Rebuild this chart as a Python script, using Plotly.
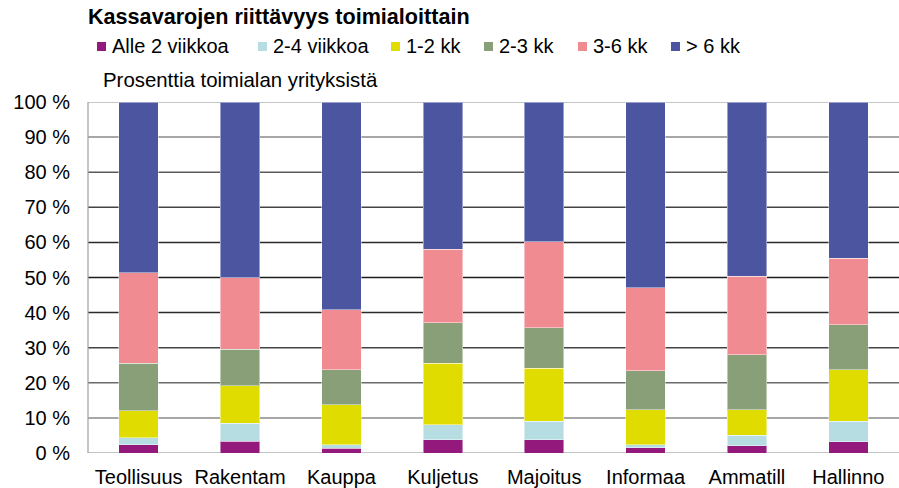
import plotly.graph_objects as go

categories = ["Teollisuus", "Rakentam", "Kauppa", "Kuljetus", "Majoitus", "Informaa", "Ammatill", "Hallinno"]
series_names = ["Alle 2 viikkoa", "2-4 viikkoa", "1-2 kk", "2-3 kk", "3-6 kk", "> 6 kk"]
alle_2_viikkoa = [2.3, 3.3, 1.4, 3.8, 3.8, 1.5, 2.0, 3.2]
v2_4_viikkoa = [2.1, 5.2, 0.9, 4.2, 5.2, 0.9, 3.1, 5.8]
kk1_2 = [7.6, 10.6, 11.5, 17.6, 15.2, 9.9, 7.2, 14.7]
kk2_3 = [13.6, 10.5, 9.9, 11.5, 11.5, 11.1, 15.7, 12.8]
kk3_6 = [25.8, 20.4, 17.1, 21.0, 24.5, 23.7, 22.4, 19.0]
yli_6_kk = [48.6, 50.0, 59.2, 41.9, 39.8, 52.9, 49.6, 44.5]
tick_values = [0, 10, 20, 30, 40, 50, 60, 70, 80, 90, 100]
tick_labels = [f"{v} %" for v in tick_values]

title_text = "Kassavarojen riittävyys toimialoittain"
subtitle_text = "Prosenttia toimialan yrityksistä"

colors = ["#93197C", "#B6DDE2", "#E1DC00", "#889F77", "#F08B92", "#4B55A0"]
series_values = [alle_2_viikkoa, v2_4_viikkoa, kk1_2, kk2_3, kk3_6, yli_6_kk]
grid_colors = ["#b0b0b0", "#8a8a8a", "#6a6a6a", "#444444", "#2a2a2a", "#1e1e1e",
               "#2a2a2a", "#444444", "#5a5a5a", "#8a8a8a", "#b5b5b5"]

W, H = 899, 488
ML, MR, MT, MB = 88, 0, 102, 35
PW = W - ML - MR
PH = H - MT - MB
FONT = "Liberation Sans, Arial, sans-serif"


def px_x(px):
    return (px - ML) / PW


def px_y(py):
    return (H - MB - py) / PH


fig = go.Figure()
for name, vals, col in zip(series_names, series_values, colors):
    fig.add_trace(go.Bar(
        x=categories, y=vals, name=name,
        marker=dict(color=col, line=dict(color="rgba(255,255,255,0.45)", width=1)),
        width=0.39, showlegend=False,
    ))

shapes = []
for v, gc in zip(tick_values, grid_colors):
    shapes.append(dict(type="line", xref="paper", yref="y", x0=0, x1=1, y0=v, y1=v,
                       line=dict(color=gc, width=1.5), layer="below"))
shapes.append(dict(type="line", xref="paper", yref="paper", x0=0, x1=0, y0=0, y1=1,
                   line=dict(color="#a0a0a0", width=1.2), layer="above"))

annotations = [
    dict(text=f"<b>{title_text}</b>", xref="paper", yref="paper", x=px_x(86), y=px_y(17),
         xanchor="left", yanchor="middle", showarrow=False, font=dict(size=21.6, color="#000", family=FONT)),
    dict(text=subtitle_text, xref="paper", yref="paper", x=px_x(101), y=px_y(80),
         xanchor="left", yanchor="middle", showarrow=False, font=dict(size=20.4, color="#000", family=FONT)),
]

legend_marker_px = [97, 258, 391, 484, 578, 671]
for name, col, mx in zip(series_names, colors, legend_marker_px):
    shapes.append(dict(type="rect", xref="paper", yref="paper",
                       x0=px_x(mx), x1=px_x(mx + 9), y0=px_y(42), y1=px_y(51),
                       fillcolor=col, line=dict(width=0)))
    annotations.append(dict(text=name, xref="paper", yref="paper", x=px_x(mx + 13), y=px_y(46.5),
                            xanchor="left", yanchor="middle", showarrow=False,
                            font=dict(size=20, color="#000", family=FONT)))

fig.update_layout(
    barmode="stack",
    width=W, height=H,
    margin=dict(l=ML, r=MR, t=MT, b=MB, pad=0, autoexpand=False),
    plot_bgcolor="white", paper_bgcolor="white",
    font=dict(family=FONT, size=20, color="#000"),
    shapes=shapes, annotations=annotations,
    showlegend=False,
    xaxis=dict(range=[-0.5, 7.5], showgrid=False, zeroline=False, showline=False,
               ticks="", tickfont=dict(size=20), ticklabelstandoff=10, fixedrange=True,
               automargin=False),
    yaxis=dict(range=[0, 100], tickvals=tick_values, ticktext=tick_labels, showgrid=False,
               zeroline=False, showline=False, ticks="", tickfont=dict(size=20),
               ticklabelstandoff=17, fixedrange=True, automargin=False),
)

fig.write_html("out.html", config={"displayModeBar": False},
               post_script="document.body.style.margin='0';document.body.style.overflow='hidden';")
